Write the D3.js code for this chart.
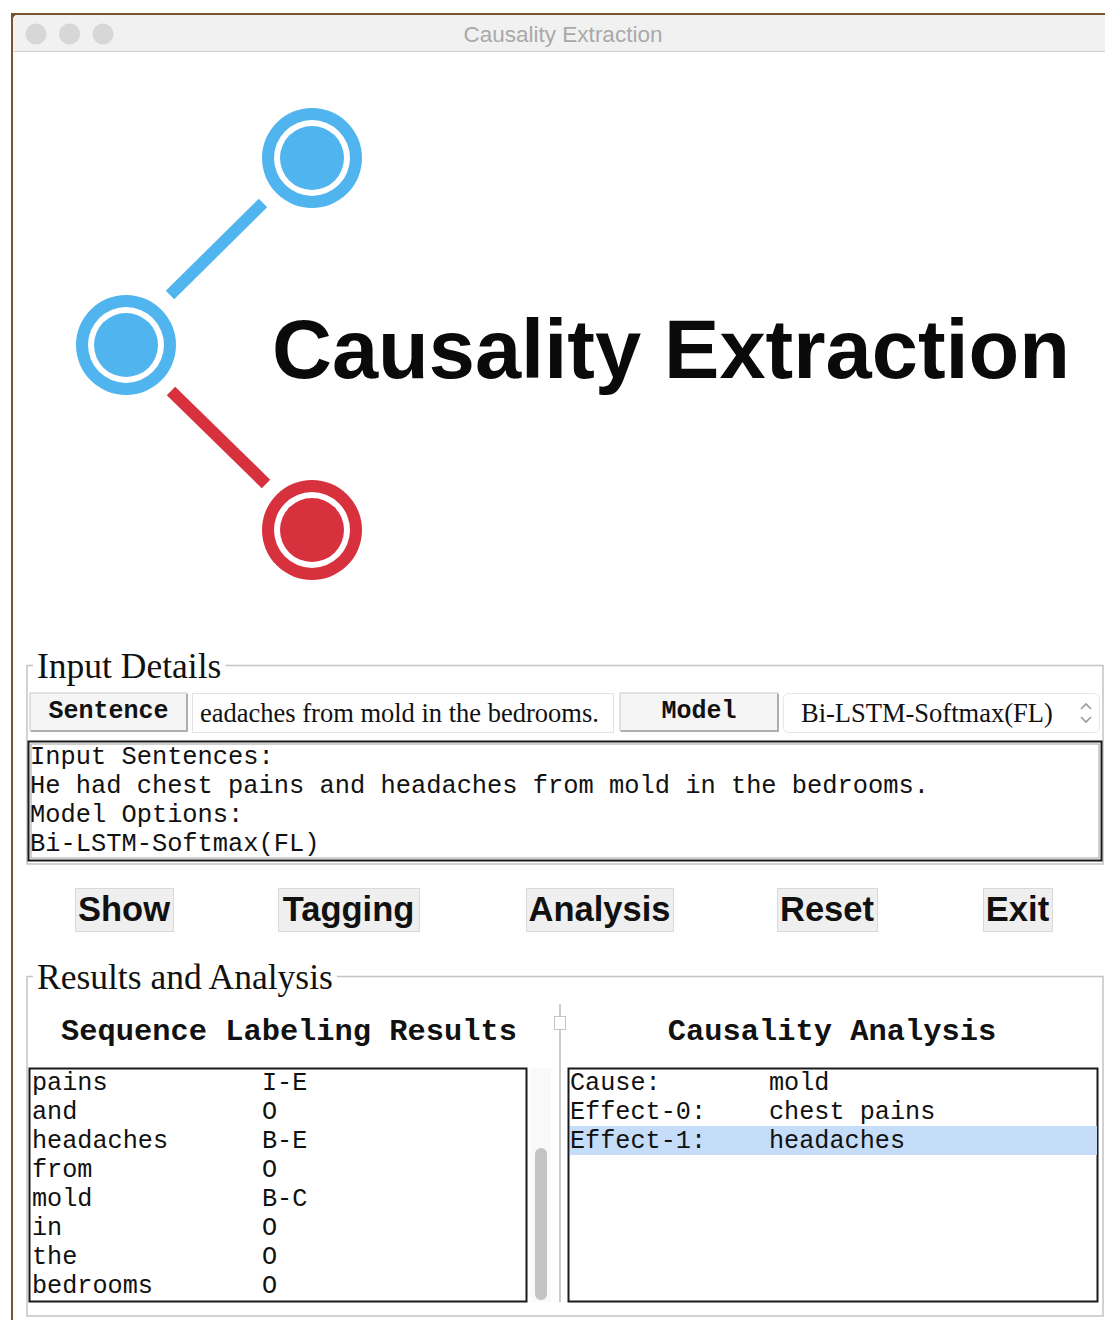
<!DOCTYPE html>
<html>
<head lang="en">
	<meta charset="UTF-8">
	<title>Causality Extraction</title>
	<script src="https://cdn.jsdelivr.net/npm/d3@7/dist/d3.min.js"></script>
	<style type="text/css">
		body { margin: 0; background: #fff; }
		svg { display: block; }
	</style>
</head>
<body>
	<svg width="1105" height="1320" version="1.1" xmlns="http://www.w3.org/2000/svg"></svg>
	<script type="text/javascript">
		// window text
		var windowTitle = "Causality Extraction";
		var logoTitle = "Causality Extraction";
		var legends = ["Input Details", "Results and Analysis"];

		// input row
		var sentenceLabel = "Sentence";
		var sentenceValue = "eadaches from mold in the bedrooms.";
		var modelLabel = "Model";
		var modelValue = "Bi-LSTM-Softmax(FL)";
		var inputLines = [
			"Input Sentences:",
			"He had chest pains and headaches from mold in the bedrooms.",
			"Model Options:",
			"Bi-LSTM-Softmax(FL)"
		];

		// buttons
		var buttons = ["Show", "Tagging", "Analysis", "Reset", "Exit"];

		// results
		var seqTitle = "Sequence Labeling Results";
		var seqWords = ["pains", "and", "headaches", "from", "mold", "in", "the", "bedrooms"];
		var seqTags = ["I-E", "O", "B-E", "O", "B-C", "O", "O", "O"];
		var causeTitle = "Causality Analysis";
		var causeKeys = ["Cause:", "Effect-0:", "Effect-1:"];
		var causeVals = ["mold", "chest pains", "headaches"];
		var selectedRow = 2;

		var mono = "'Courier New', 'Liberation Mono', monospace";
		var serif = "'Times New Roman', 'Liberation Serif', serif";
		var sans = "Helvetica, Arial, 'Liberation Sans', sans-serif";
		var blue = '#50b4ef', red = '#d8313e';

		var svg = d3.select('svg');

		// desktop edge + window
		svg.append('rect').attr('x', 11).attr('y', 13).attr('width', 1094).attr('height', 1307).attr('fill', '#7a5330');
		svg.append('path').attr('d', 'M13,1320 V20 Q13,15 18,15 H1105 V1320 Z').attr('fill', '#ffffff');

		// title bar
		svg.append('path').attr('d', 'M13,51 V20 Q13,15 18,15 H1105 V51 Z').attr('fill', '#f1f1f1');
		svg.append('line').attr('x1', 13).attr('x2', 1105).attr('y1', 51.5).attr('y2', 51.5).attr('stroke', '#d2d2d2');
		svg.selectAll('circle.light').data([0, 1, 2]).enter().append('circle')
			.attr('class', 'light')
			.attr('cx', function (d) { return 36 + d * 33.5; })
			.attr('cy', 34).attr('r', 10.5).attr('fill', '#d7d7d7');
		svg.append('text').text(windowTitle)
			.attr('x', 563).attr('y', 42).attr('text-anchor', 'middle')
			.attr('font-family', sans).attr('font-size', 22.5).attr('fill', '#a9a9a9');

		// logo
		var logo = svg.append('g');
		var nodes = [
			{ x: 312, y: 158, c: blue },
			{ x: 126, y: 345, c: blue },
			{ x: 312, y: 530, c: red }
		];
		var links = [
			{ x1: 170, y1: 295, x2: 263, y2: 203, c: blue },
			{ x1: 171, y1: 391, x2: 266, y2: 484, c: red }
		];
		logo.selectAll('line').data(links).enter().append('line')
			.attr('x1', function (d) { return d.x1; }).attr('y1', function (d) { return d.y1; })
			.attr('x2', function (d) { return d.x2; }).attr('y2', function (d) { return d.y2; })
			.attr('stroke', function (d) { return d.c; }).attr('stroke-width', 12);
		[50, 38, 32].forEach(function (r, i) {
			logo.selectAll('circle.r' + i).data(nodes).enter().append('circle')
				.attr('class', 'r' + i)
				.attr('cx', function (d) { return d.x; }).attr('cy', function (d) { return d.y; })
				.attr('r', r)
				.attr('fill', function (d) { return i == 1 ? '#ffffff' : d.c; });
		});
		logo.append('text').text(logoTitle)
			.attr('x', 272).attr('y', 378)
			.attr('font-family', sans).attr('font-weight', 'bold').attr('font-size', 83).attr('fill', '#0a0a0a');

		// fieldset frames
		function fieldset(top, bottom, legend) {
			var g = svg.append('g');
			var t = g.append('text').text(legend)
				.attr('x', 37).attr('y', top + 12)
				.attr('font-family', serif).attr('font-size', 35.5).attr('fill', '#111');
			var w = t.node().getComputedTextLength();
			var d = 'M33,' + top + ' H27 V' + bottom + ' H1103 V' + top + ' H' + (37 + w + 4);
			g.insert('path', 'text').attr('d', d).attr('fill', 'none').attr('stroke', '#ffffff').attr('stroke-width', 1).attr('transform', 'translate(1,1)');
			g.insert('path', 'text').attr('d', d).attr('fill', 'none').attr('stroke', '#c4c4c4').attr('stroke-width', 1.5);
		}
		fieldset(665.5, 864, legends[0]);
		fieldset(976.5, 1316, legends[1]);

		// input row widgets
		function button(x, y, w, h, label) {
			svg.append('rect').attr('x', x).attr('y', y).attr('width', w).attr('height', h)
				.attr('fill', '#f5f5f5').attr('stroke', '#c9c9c9');
			svg.append('path').attr('d', 'M' + (x + 1) + ',' + (y + h) + ' H' + (x + w) + ' V' + (y + 1))
				.attr('fill', 'none').attr('stroke', '#9d9d9d').attr('stroke-width', 1.5);
			svg.append('text').text(label)
				.attr('x', x + w / 2).attr('y', y + 25).attr('text-anchor', 'middle')
				.attr('font-family', mono).attr('font-weight', 'bold').attr('font-size', 25).attr('fill', '#111');
		}
		button(30, 693, 157, 38, sentenceLabel);
		button(620, 693, 158, 38, modelLabel);

		svg.append('rect').attr('x', 192.5).attr('y', 693.5).attr('width', 421).attr('height', 39)
			.attr('fill', '#fff').attr('stroke', '#e2e2e2');
		svg.append('text').text(sentenceValue)
			.attr('x', 200).attr('y', 722)
			.attr('font-family', serif).attr('font-size', 26.5).attr('fill', '#111');

		svg.append('rect').attr('x', 783.5).attr('y', 693.5).attr('width', 316).attr('height', 39).attr('rx', 5)
			.attr('fill', '#fff').attr('stroke', '#e6e6e6');
		svg.append('text').text(modelValue)
			.attr('x', 801).attr('y', 722)
			.attr('font-family', serif).attr('font-size', 26.5).attr('fill', '#111');
		svg.append('path').attr('d', 'M1081,709 L1086,704 L1091,709 M1081,717 L1086,722 L1091,717')
			.attr('fill', 'none').attr('stroke', '#9a9a9a').attr('stroke-width', 1.6);

		// input text box
		svg.append('rect').attr('x', 28.5).attr('y', 741.5).attr('width', 1073).attr('height', 119)
			.attr('fill', '#fff').attr('stroke', '#1a1a1a').attr('stroke-width', 2);
		svg.append('rect').attr('x', 31).attr('y', 744).attr('width', 1068).attr('height', 114)
			.attr('fill', 'none').attr('stroke', '#8a8a8a').attr('stroke-width', 0.8);
		var yIn = d3.scaleLinear().domain([0, 1]).range([764, 793]);
		svg.selectAll('text.inp').data(inputLines).enter().append('text')
			.attr('class', 'inp').text(function (d) { return d; })
			.attr('x', 30).attr('y', function (d, i) { return yIn(i); })
			.attr('font-family', mono).attr('font-size', 25.4).attr('fill', '#111');

		// action buttons (left edge, width)
		var buttonBoxes = [[75, 98], [278, 141], [526, 147], [777, 100], [983, 69]];
		buttons.forEach(function (b, i) {
			var bx = buttonBoxes[i][0], w = buttonBoxes[i][1];
			svg.append('rect').attr('x', bx + 0.5).attr('y', 888.5).attr('width', w).attr('height', 43)
				.attr('fill', '#efefef').attr('stroke', '#d9d9d9');
			svg.append('text').text(b)
				.attr('x', bx + w / 2).attr('y', 921).attr('text-anchor', 'middle')
				.attr('font-family', sans).attr('font-weight', 'bold').attr('font-size', 34.5).attr('fill', '#111');
		});

		// results headers
		svg.append('text').text(seqTitle)
			.attr('x', 289).attr('y', 1040).attr('text-anchor', 'middle')
			.attr('font-family', mono).attr('font-weight', 'bold').attr('font-size', 30.4).attr('fill', '#111');
		svg.append('text').text(causeTitle)
			.attr('x', 832).attr('y', 1040).attr('text-anchor', 'middle')
			.attr('font-family', mono).attr('font-weight', 'bold').attr('font-size', 30.4).attr('fill', '#111');

		// sash between the two panes
		svg.append('line').attr('x1', 560).attr('x2', 560).attr('y1', 1004).attr('y2', 1302)
			.attr('stroke', '#cdcdcd').attr('stroke-width', 2);
		svg.append('rect').attr('x', 554.5).attr('y', 1016.5).attr('width', 11).attr('height', 13)
			.attr('fill', '#fff').attr('stroke', '#c4c4c4');

		var yRow = d3.scaleLinear().domain([0, 1]).range([1090, 1119]);

		// left list
		svg.append('rect').attr('x', 29.5).attr('y', 1068.5).attr('width', 497).attr('height', 233)
			.attr('fill', '#fff').attr('stroke', '#1a1a1a').attr('stroke-width', 2);
		svg.append('rect').attr('x', 531).attr('y', 1068).attr('width', 20).attr('height', 234).attr('fill', '#f9f9f9');
		svg.append('rect').attr('x', 535).attr('y', 1148).attr('width', 12).attr('height', 152).attr('rx', 6)
			.attr('fill', '#c3c3c3');
		svg.selectAll('text.word').data(seqWords).enter().append('text')
			.attr('class', 'word').text(function (d) { return d; })
			.attr('x', 32).attr('y', function (d, i) { return yRow(i); })
			.attr('font-family', mono).attr('font-size', 25.2).attr('fill', '#111');
		svg.selectAll('text.tag').data(seqTags).enter().append('text')
			.attr('class', 'tag').text(function (d) { return d; })
			.attr('x', 262).attr('y', function (d, i) { return yRow(i); })
			.attr('font-family', mono).attr('font-size', 25.2).attr('fill', '#111');

		// right list
		svg.append('rect').attr('x', 568.5).attr('y', 1068.5).attr('width', 529).attr('height', 233)
			.attr('fill', '#fff').attr('stroke', '#1a1a1a').attr('stroke-width', 2);
		svg.append('rect').attr('x', 570).attr('y', yRow(selectedRow) - 22).attr('width', 527).attr('height', 29)
			.attr('fill', '#c5ddf8');
		svg.selectAll('text.key').data(causeKeys).enter().append('text')
			.attr('class', 'key').text(function (d) { return d; })
			.attr('x', 570).attr('y', function (d, i) { return yRow(i); })
			.attr('font-family', mono).attr('font-size', 25.2).attr('fill', '#111');
		svg.selectAll('text.val').data(causeVals).enter().append('text')
			.attr('class', 'val').text(function (d) { return d; })
			.attr('x', 769).attr('y', function (d, i) { return yRow(i); })
			.attr('font-family', mono).attr('font-size', 25.2).attr('fill', '#111');
	</script>
</body>
</html>
